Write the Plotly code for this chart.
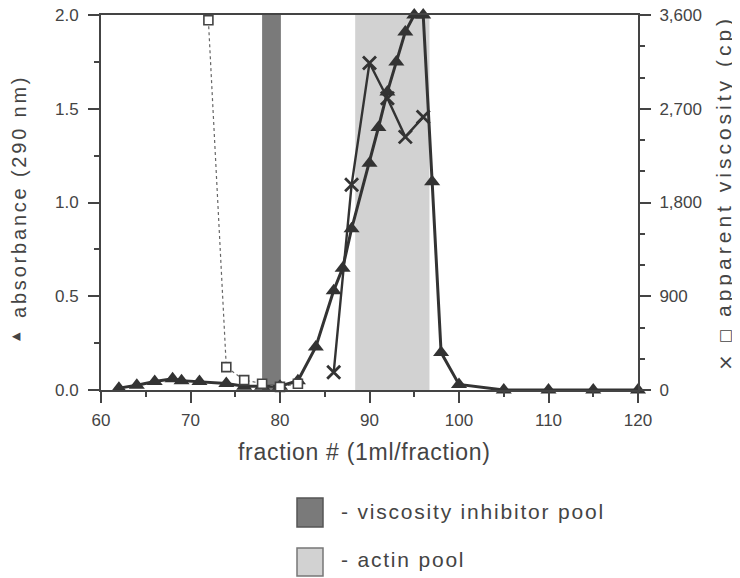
import plotly.graph_objects as go

# ---- data ----
abs_fraction = [62, 64, 66, 68, 69, 71, 74, 76, 78, 80, 82, 84, 86, 87, 88, 90, 91, 92, 93, 94, 95, 96, 97, 98, 100, 105, 110, 115, 120]
absorbance = [0.01, 0.025, 0.045, 0.06, 0.05, 0.045, 0.035, 0.02, 0.02, 0.02, 0.05, 0.23, 0.53, 0.65, 0.86, 1.21, 1.40, 1.59, 1.75, 1.91, 2.0, 2.0, 1.11, 0.20, 0.03, 0.0, 0.0, 0.0, 0.0]

visc_x_fraction = [86, 88, 90, 92, 94, 96]
visc_x = [170, 1970, 3140, 2800, 2430, 2620]

visc_sq_fraction = [72, 74, 76, 78, 80, 82]
visc_sq = [3550, 220, 95, 60, 30, 60]

inhibitor_pool = [78.0, 80.1]
actin_pool = [88.4, 96.7]

left_ticks = [0, 0.5, 1.0, 1.5, 2.0]
left_ticktext = ["0.0", "0.5", "1.0", "1.5", "2.0"]
right_ticks = [0, 900, 1800, 2700, 3600]
right_ticktext = ["0", "900", "1,800", "2,700", "3,600"]
x_ticks = [60, 70, 80, 90, 100, 110, 120]

# ---- layout constants (screen pixels) ----
OFF = 8  # default page body margin
W, H = 740 - OFF, 578 - OFF
L, R, T, B = 101, 638, 15, 390
FONT = "Liberation Sans, Arial, sans-serif"
TXT = "#444444"
DARK = "#333333"
AX = "#444444"


def px(x):
    return (x - L) / (R - L)


def py(y):
    return (B - y) / (B - T)


def spaced(text, sp):
    return f'<span style="letter-spacing:{sp}px">{text}</span>'


fig = go.Figure()

fig.add_trace(go.Scatter(
    x=visc_sq_fraction, y=visc_sq, yaxis="y2", mode="lines+markers",
    line=dict(color="#666666", width=1.2, dash="dot"),
    marker=dict(symbol="square", size=9, color="white", line=dict(color="#444444", width=1.6)),
    cliponaxis=False, showlegend=False))

fig.add_trace(go.Scatter(
    x=abs_fraction, y=absorbance, mode="lines+markers",
    line=dict(color=DARK, width=3),
    marker=dict(symbol="triangle-up", size=14, color=DARK),
    cliponaxis=False, showlegend=False))

fig.add_trace(go.Scatter(
    x=visc_x_fraction, y=visc_x, yaxis="y2", mode="lines+markers",
    line=dict(color=DARK, width=2.4),
    marker=dict(symbol="x-thin-open", size=13, line=dict(color=DARK, width=2.8)),
    cliponaxis=False, showlegend=False))

shapes = [
    dict(type="rect", xref="x", yref="paper", x0=inhibitor_pool[0], x1=inhibitor_pool[1], y0=0, y1=1,
         fillcolor="#7a7a7a", line=dict(width=0), layer="below"),
    dict(type="rect", xref="x", yref="paper", x0=actin_pool[0], x1=actin_pool[1], y0=0, y1=1,
         fillcolor="#d2d2d2", line=dict(width=0), layer="below"),
    # legend swatches
    dict(type="rect", xref="paper", yref="paper", x0=px(297), x1=px(323), y0=py(527), y1=py(498),
         fillcolor="#7a7a7a", line=dict(color="#555555", width=1.5)),
    dict(type="rect", xref="paper", yref="paper", x0=px(297), x1=px(323), y0=py(576), y1=py(548),
         fillcolor="#d2d2d2", line=dict(color="#777777", width=1.5)),
]


def ann(text, x, y, size, angle=0, anchor="center", family=FONT):
    return dict(text=text, x=px(x), y=py(y), xref="paper", yref="paper",
                xanchor=anchor, yanchor="middle", textangle=angle, showarrow=False,
                borderpad=0, font=dict(family=family, size=size, color=TXT))


annotations = [
    ann(spaced("absorbance (290 nm)", 2.8), 19, 197, 20, -90),
    ann("▲", 15, 337, 11, -90, family="DejaVu Sans"),
    ann(spaced("apparent viscosity (cp)", 4.0), 724, 166, 21, -90),
    ann("□", 725, 336, 15, -90, family="DejaVu Sans"),
    ann("×", 725, 363, 20, -90, family="DejaVu Sans"),
    ann(spaced("fraction # (1ml/fraction)", 0.7), 364, 452, 23),
    ann(spaced("- viscosity inhibitor pool", 1.8), 340, 511, 21, anchor="left"),
    ann(spaced("- actin pool", 1.8), 340, 559, 21, anchor="left"),
]

axis_common = dict(showgrid=False, zeroline=False, showline=True, linecolor=AX, linewidth=2,
                   ticks="outside", ticklen=11, tickwidth=2, tickcolor=AX, automargin=False,
                   ticklabeloverflow="allow",
                   tickfont=dict(family=FONT, size=17, color=TXT))

fig.update_layout(
    width=W, height=H,
    margin=dict(l=L - OFF, r=W - (R - OFF), t=T - OFF, b=H - (B - OFF), pad=0),
    paper_bgcolor="white", plot_bgcolor="white",
    font=dict(family=FONT, size=17, color=TXT),
    shapes=shapes, annotations=annotations,
    xaxis=dict(range=[60, 120], tickvals=x_ticks, mirror=True, ticklabelstandoff=3,
               minor=dict(dtick=5, tick0=60, ticks="outside", ticklen=5, tickwidth=1.5, tickcolor=AX),
               **axis_common),
    yaxis=dict(range=[0, 2], tickvals=left_ticks, ticktext=left_ticktext, ticklabelstandoff=6,
               minor=dict(dtick=0.25, tick0=0, ticks="outside", ticklen=5, tickwidth=1.5, tickcolor=AX),
               **axis_common),
    yaxis2=dict(range=[0, 3600], overlaying="y", side="right", tickvals=right_ticks, ticktext=right_ticktext,
                ticklabelstandoff=5,
                minor=dict(dtick=300, tick0=0, ticks="outside", ticklen=5, tickwidth=1.5, tickcolor=AX),
                **axis_common),
)

fig.write_html("out.html")
